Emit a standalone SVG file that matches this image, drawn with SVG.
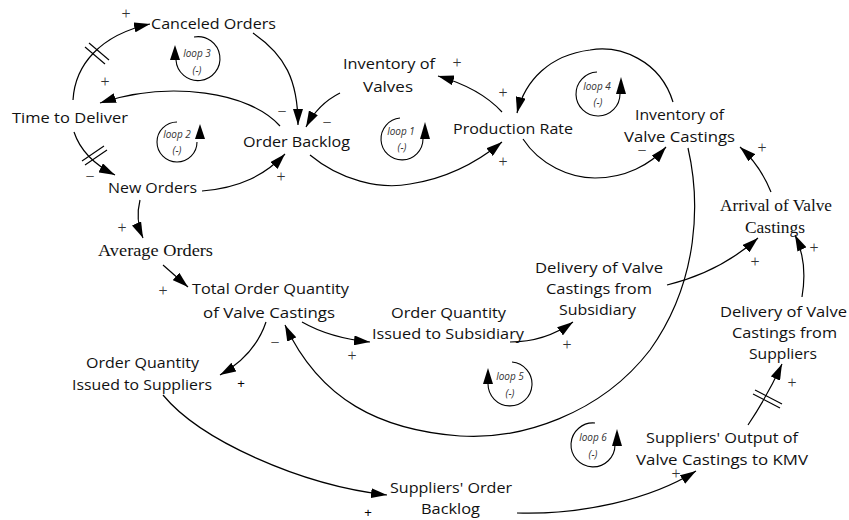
<svg xmlns="http://www.w3.org/2000/svg" width="849" height="520" viewBox="0 0 849 520">
<defs>
<marker id="ah" viewBox="0 0 16 10" markerWidth="16" markerHeight="10" refX="16" refY="5" orient="auto" markerUnits="userSpaceOnUse">
<path d="M0,0 L16,5 L0,10 z" fill="#000"/>
</marker>
<style>
.n{font-family:"Open Sans","Liberation Sans",sans-serif;font-size:15px;fill:#111;text-anchor:middle}
.s{font-family:"Liberation Serif",serif;font-size:17px;fill:#111;text-anchor:middle}
.c{fill:none;stroke:#000;stroke-width:1.2;marker-end:url(#ah)}
.h{stroke:#000;stroke-width:1.1}
.p{font-family:"Liberation Serif",serif;font-size:16px;fill:#333;text-anchor:middle}
.l{font-family:"Open Sans","Liberation Sans",sans-serif;font-size:10px;font-style:italic;fill:#333;text-anchor:middle}
.la{fill:none;stroke:#000;stroke-width:1.1}
</style>
</defs>
<rect width="849" height="520" fill="#fff"/>

<g id="connectors">
<path class="c" d="M73,100 C75,65 100,35 150,24"/>
<path class="c" d="M253,33 C285,55 298,80 298,125"/>
<path class="c" d="M340,93 Q318,104 306,127"/>
<path class="c" d="M280,126 C250,92 170,80 100,103"/>
<path class="c" d="M74,132 C80,150 95,165 115,175"/>
<path class="c" d="M202,191 C240,188 265,175 285,154"/>
<path class="c" d="M310,155 C340,180 380,190 410,184 C450,178 480,160 502,142"/>
<path class="c" d="M502,112 Q480,88 438,76"/>
<path class="c" d="M673,102 C660,60 620,45 590,50 C550,55 525,80 517,113"/>
<path class="c" d="M523,139 C540,165 570,178 595,178 C625,178 650,165 666,147"/>
<path class="c" d="M688,148 C700,200 700,280 650,350 C600,415 520,440 460,436 C380,430 320,400 285,325"/>
<path class="c" d="M302,322 Q330,338 370,342"/>
<path class="c" d="M266,322 Q255,355 220,375"/>
<path class="c" d="M163,265 L188,287"/>
<path class="c" d="M140,200 Q135,220 143,238"/>
<path class="c" d="M510,342 Q545,342 573,322"/>
<path class="c" d="M667,285 Q720,272 758,238"/>
<path class="c" d="M802,297 Q808,262 795,235"/>
<path class="c" d="M771,192 Q760,165 740,147"/>
<path class="c" d="M163,395 C200,440 300,485 387,495"/>
<path class="c" d="M517,513 C580,515 650,500 696,471"/>
<path class="c" d="M748,425 Q768,395 782,364"/>
<line class="h" x1="85" y1="47" x2="105" y2="64"/>
<line class="h" x1="89" y1="43" x2="109" y2="60"/>
<line class="h" x1="82" y1="161" x2="104" y2="146"/>
<line class="h" x1="85" y1="165" x2="107" y2="150"/>
<line class="h" x1="753" y1="394" x2="780" y2="408"/>
<line class="h" x1="755" y1="390" x2="782" y2="404"/>
</g>

<g id="polarity">
<text class="p" x="126" y="19">+</text>
<text class="p" x="105" y="87">+</text>
<text class="p" x="282" y="117">−</text>
<text class="p" x="327" y="128">−</text>
<text class="p" x="281" y="182">+</text>
<text class="p" x="90" y="182">−</text>
<text class="p" x="457" y="68">+</text>
<text class="p" x="503" y="98">+</text>
<text class="p" x="503" y="167">+</text>
<text class="p" x="642" y="156">−</text>
<text class="p" x="762" y="153">+</text>
<text class="p" x="122" y="233">+</text>
<text class="p" x="163" y="296">+</text>
<text class="p" x="275" y="348">−</text>
<text class="p" x="352" y="361">+</text>
<text class="p" x="241" y="388" style="font-family:'Liberation Sans',sans-serif;font-size:13px;fill:#000">+</text>
<text class="p" x="567" y="350">+</text>
<text class="p" x="755" y="267">+</text>
<text class="p" x="814" y="253">+</text>
<text class="p" x="792" y="388">+</text>
<text class="p" x="368" y="517" style="font-family:'Liberation Sans',sans-serif;font-size:13px;fill:#000">+</text>
<text class="p" x="676" y="479">+</text>
</g>

<g id="loops">
<g id="loop1">
<path class="la" d="M400,118 A21,21 0 1 0 423,139"/>
<polygon points="420,139 430,139 425,122" fill="#000"/>
<text class="l" x="401" y="135">loop 1</text>
<text class="l" x="402" y="151">(-)</text>
</g>
<g id="loop2">
<path class="la" d="M177,122 A20,20 0 1 0 197,142"/>
<polygon points="195,139 205,139 200,124" fill="#000"/>
<text class="l" x="177" y="138">loop 2</text>
<text class="l" x="177" y="154">(-)</text>
</g>
<g id="loop3">
<path class="la" d="M194,37 A22,22 0 1 1 176,60"/>
<polygon points="170,60 180,60 175,45" fill="#000"/>
<text class="l" x="197" y="57">loop 3</text>
<text class="l" x="197" y="74">(-)</text>
</g>
<g id="loop4">
<path class="la" d="M597,72 A22,22 0 1 0 620,94"/>
<polygon points="616,94 626,94 621,77" fill="#000"/>
<text class="l" x="597" y="90">loop 4</text>
<text class="l" x="598" y="106">(-)</text>
</g>
<g id="loop5">
<path class="la" d="M512,362 A22,22 0 1 1 488,384"/>
<polygon points="483,384 493,384 488,368" fill="#000"/>
<text class="l" x="510" y="380">loop 5</text>
<text class="l" x="510" y="397">(-)</text>
</g>
<g id="loop6">
<path class="la" d="M595,423 A22,22 0 1 0 615,445"/>
<polygon points="612,446 622,446 617,429" fill="#000"/>
<text class="l" x="593" y="441">loop 6</text>
<text class="l" x="593" y="458">(-)</text>
</g>
</g>

<g id="canceled-orders"><text class="n" x="213.5" y="29" textLength="125" lengthAdjust="spacingAndGlyphs">Canceled Orders</text></g>
<g id="time-to-deliver"><text class="n" x="70" y="123" textLength="116" lengthAdjust="spacingAndGlyphs">Time to Deliver</text></g>
<g id="order-backlog"><text class="n" x="296.5" y="147" textLength="107" lengthAdjust="spacingAndGlyphs">Order Backlog</text></g>
<g id="inventory-of-valves">
<text class="n" x="389" y="69" textLength="92" lengthAdjust="spacingAndGlyphs">Inventory of</text>
<text class="n" x="388" y="92" textLength="50" lengthAdjust="spacingAndGlyphs">Valves</text>
</g>
<g id="production-rate"><text class="n" x="513" y="134" textLength="120" lengthAdjust="spacingAndGlyphs">Production Rate</text></g>
<g id="inventory-of-valve-castings">
<text class="n" x="679.5" y="120" textLength="89" lengthAdjust="spacingAndGlyphs">Inventory of</text>
<text class="n" x="679.5" y="142" textLength="111" lengthAdjust="spacingAndGlyphs">Valve Castings</text>
</g>
<g id="new-orders"><text class="n" x="152.5" y="193" textLength="89" lengthAdjust="spacingAndGlyphs">New Orders</text></g>
<g id="average-orders"><text class="s" x="155.5" y="256" textLength="115" lengthAdjust="spacingAndGlyphs">Average Orders</text></g>
<g id="total-order-quantity">
<text class="n" x="270.5" y="294" textLength="157" lengthAdjust="spacingAndGlyphs">Total Order Quantity</text>
<text class="n" x="269" y="318" textLength="132" lengthAdjust="spacingAndGlyphs">of Valve Castings</text>
</g>
<g id="order-quantity-subsidiary">
<text class="n" x="448.5" y="318" textLength="115" lengthAdjust="spacingAndGlyphs">Order Quantity</text>
<text class="n" x="448" y="339" textLength="152" lengthAdjust="spacingAndGlyphs">Issued to Subsidiary</text>
</g>
<g id="delivery-from-subsidiary">
<text class="n" x="599" y="273" textLength="128" lengthAdjust="spacingAndGlyphs">Delivery of Valve</text>
<text class="n" x="599" y="294" textLength="106" lengthAdjust="spacingAndGlyphs">Castings from</text>
<text class="n" x="597.5" y="315" textLength="77" lengthAdjust="spacingAndGlyphs">Subsidiary</text>
</g>
<g id="arrival-of-valve-castings">
<text class="s" x="776" y="211" textLength="112" lengthAdjust="spacingAndGlyphs">Arrival of Valve</text>
<text class="s" x="775" y="233" textLength="60" lengthAdjust="spacingAndGlyphs">Castings</text>
</g>
<g id="delivery-from-suppliers">
<text class="n" x="783.5" y="317" textLength="127" lengthAdjust="spacingAndGlyphs">Delivery of Valve</text>
<text class="n" x="784.5" y="338" textLength="105" lengthAdjust="spacingAndGlyphs">Castings from</text>
<text class="n" x="783" y="359" textLength="68" lengthAdjust="spacingAndGlyphs">Suppliers</text>
</g>
<g id="order-quantity-suppliers">
<text class="n" x="142.5" y="368" textLength="113" lengthAdjust="spacingAndGlyphs">Order Quantity</text>
<text class="n" x="142" y="390" textLength="140" lengthAdjust="spacingAndGlyphs">Issued to Suppliers</text>
</g>
<g id="suppliers-order-backlog">
<text class="n" x="451" y="493" textLength="122" lengthAdjust="spacingAndGlyphs">Suppliers' Order</text>
<text class="n" x="450.5" y="514" textLength="59" lengthAdjust="spacingAndGlyphs">Backlog</text>
</g>
<g id="suppliers-output">
<text class="n" x="722" y="443" textLength="152" lengthAdjust="spacingAndGlyphs">Suppliers' Output of</text>
<text class="n" x="722" y="465" textLength="172" lengthAdjust="spacingAndGlyphs">Valve Castings to KMV</text>
</g>
</svg>
